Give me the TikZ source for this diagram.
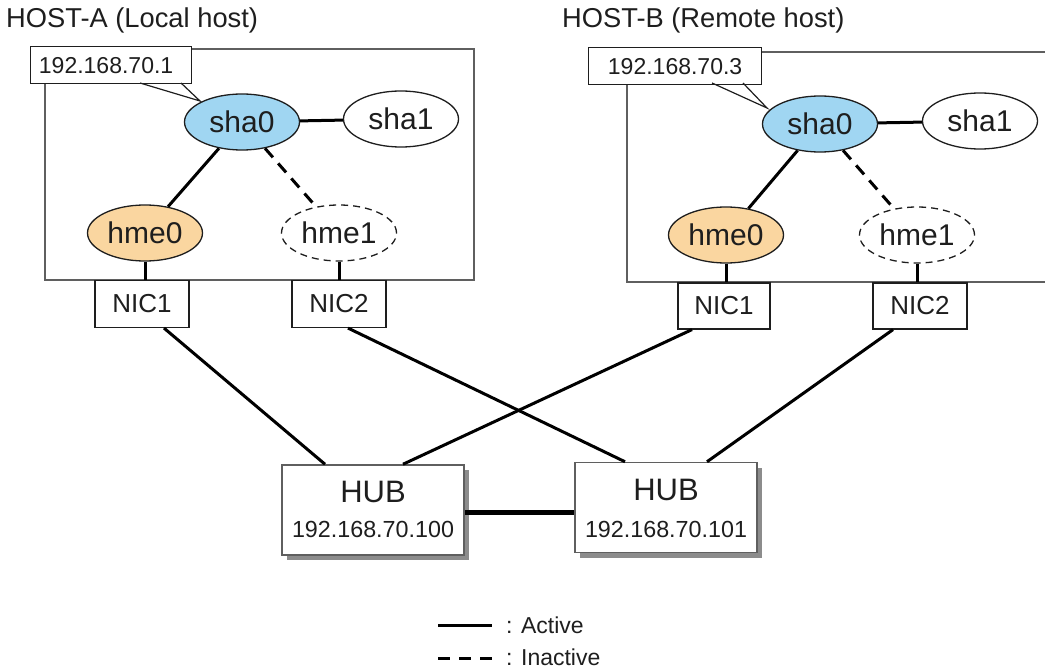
\documentclass[tikz,border=0pt]{standalone}
\usepackage{fontspec}
\setmainfont{Liberation Sans}
\usetikzlibrary{shapes.geometric,shadows}
\definecolor{blueE}{RGB}{160,214,242}
\definecolor{orangeE}{RGB}{250,214,160}
\definecolor{frame}{RGB}{95,95,95}
\definecolor{ink}{RGB}{30,30,30}
\begin{document}
\begin{tikzpicture}[x=1pt,y=-1pt,
  every node/.style={text=ink},
  titletext/.style={anchor=base west, inner sep=0pt, font=\fontsize{27.3}{27.3}\selectfont},
  hostframe/.style={draw=frame, line width=1.5pt},
  ifnode/.style={ellipse, draw=ink, line width=1.3pt, minimum width=115pt, minimum height=56pt, inner sep=0pt, font=\fontsize{30}{30}\selectfont},
  offnode/.style={ifnode, dash pattern=on 7pt off 5pt},
  nicbox/.style={draw=ink, line width=1.2pt, fill=white, minimum width=94pt, minimum height=47pt, inner sep=0pt, font=\fontsize{26}{26}\selectfont},
  ipbox/.style={draw=ink, line width=1.2pt, fill=white, inner sep=0pt, minimum height=37pt, font=\fontsize{23}{23}\selectfont},
  tail/.style={draw=ink, line width=1.2pt},
  act/.style={draw=black, line width=3pt},
  inact/.style={draw=black, line width=3pt, dash pattern=on 12pt off 8pt},
  hubbox/.style={draw=frame, line width=1.5pt, fill=white, minimum width=182pt, minimum height=90pt, inner sep=0pt,
    drop shadow={shadow xshift=5pt, shadow yshift=-5pt, fill=black!45, opacity=1}},
  hubname/.style={anchor=base, inner sep=0pt, font=\fontsize{31}{31}\selectfont},
  hubip/.style={anchor=base, inner sep=0pt, font=\fontsize{23.3}{23.3}\selectfont},
  legtext/.style={anchor=base west, inner sep=0pt, font=\fontsize{23}{23}\selectfont}
]
\useasboundingbox (0,0) rectangle (1045,671);

% ---------- titles ----------
\node[titletext] (titleA) at (6,28) {HOST-A (Local host)};
\node[titletext] (titleB) at (562,28) {HOST-B (Remote host)};

% ---------- host frames ----------
\draw[hostframe] (45,49) rectangle (474,280);
\draw[hostframe] (1050,52) -- (627,52) -- (627,282) -- (1050,282);

% ---------- HOST-A ----------
\node[ipbox, minimum width=161pt, anchor=north west] (ipA) at (30,46) {\hspace*{-10pt}192.168.70.1};
\coordinate (ipAl) at (140,83);
\coordinate (ipAr) at (181,83);
\node[ifnode, fill=blueE] (shaA0) at (242,122) {sha0};
\node[ifnode, fill=white] (shaA1) at (401,119) {sha1};
\node[ifnode, fill=orangeE] (hmeA0) at (145,233) {hme0};
\node[offnode] (hmeA1) at (339,233) {hme1};
\coordinate (tipA) at (200,101);
\draw[tail] (ipAl) -- (tipA) -- (ipAr);
\node[nicbox] (nicA1) at (142,304) {NIC1};
\node[nicbox] (nicA2) at (339,304) {NIC2};
\draw[act] (shaA0) -- (shaA1);
\draw[act] (shaA0) -- (hmeA0);
\draw[inact] (shaA0) -- (hmeA1);
\draw[act] (hmeA0.south) -- (hmeA0.south |- nicA1.north);
\draw[act] (hmeA1.south) -- (hmeA1.south |- nicA2.north);

% ---------- HOST-B ----------
\node[ipbox, minimum width=173pt, anchor=north west] (ipB) at (588,47) {192.168.70.3};
\coordinate (ipBl) at (712,83);
\coordinate (ipBr) at (743,83);
\node[ifnode, fill=blueE] (shaB0) at (820,124) {sha0};
\node[ifnode, fill=white] (shaB1) at (980,121) {sha1};
\node[ifnode, fill=orangeE] (hmeB0) at (726,235) {hme0};
\node[offnode] (hmeB1) at (917,235) {hme1};
\coordinate (tipB) at (767,108);
\draw[tail] (ipBl) -- (tipB) -- (ipBr);
\node[nicbox, minimum height=46pt, minimum width=92pt] (nicB1) at (724,306) {NIC1};
\node[nicbox, minimum height=46pt] (nicB2) at (920,306) {NIC2};
\draw[act] (shaB0) -- (shaB1);
\draw[act] (shaB0) -- (hmeB0);
\draw[inact] (shaB0) -- (hmeB1);
\draw[act] (hmeB0.south) -- (hmeB0.south |- nicB1.north);
\draw[act] (hmeB1.south) -- (hmeB1.south |- nicB2.north);

% ---------- HUBs ----------
\node[hubbox] (hub1) at (373,510) {};
\node[hubbox] (hub2) at (666,507.5) {};
\node[hubname] (hub1n) at (373,502) {HUB};
\node[hubip] (hub1i) at (373,537) {192.168.70.100};
\node[hubname] (hub2n) at (666,500) {HUB};
\node[hubip] (hub2i) at (666,537) {192.168.70.101};
\draw[draw=black, line width=5pt] (hub1.east |- 0,512) -- (hub2.west |- 0,512);

% ---------- NIC to HUB ----------
\draw[act] ([xshift=22pt]nicA1.south) -- ([xshift=-48pt]hub1.north);
\draw[act] ([xshift=9pt]nicA2.south) -- ([xshift=-41pt]hub2.north);
\draw[act] ([xshift=-32pt]nicB1.south) -- ([xshift=30pt]hub1.north);
\draw[act] ([xshift=-27pt]nicB2.south) -- ([xshift=41pt]hub2.north);

% ---------- legend ----------
\coordinate (la1) at (438,625);
\coordinate (la2) at (492,625);
\draw[act] (la1) -- (la2);
\node[legtext] (lat) at (506,633) {: Active};
\coordinate (li1) at (438,658);
\coordinate (li2) at (492,658);
\draw[draw=black, line width=3pt, dash pattern=on 12pt off 9pt] (li1) -- (li2);
\node[legtext] (lit) at (506,665) {: Inactive};
\end{tikzpicture}
\end{document}
